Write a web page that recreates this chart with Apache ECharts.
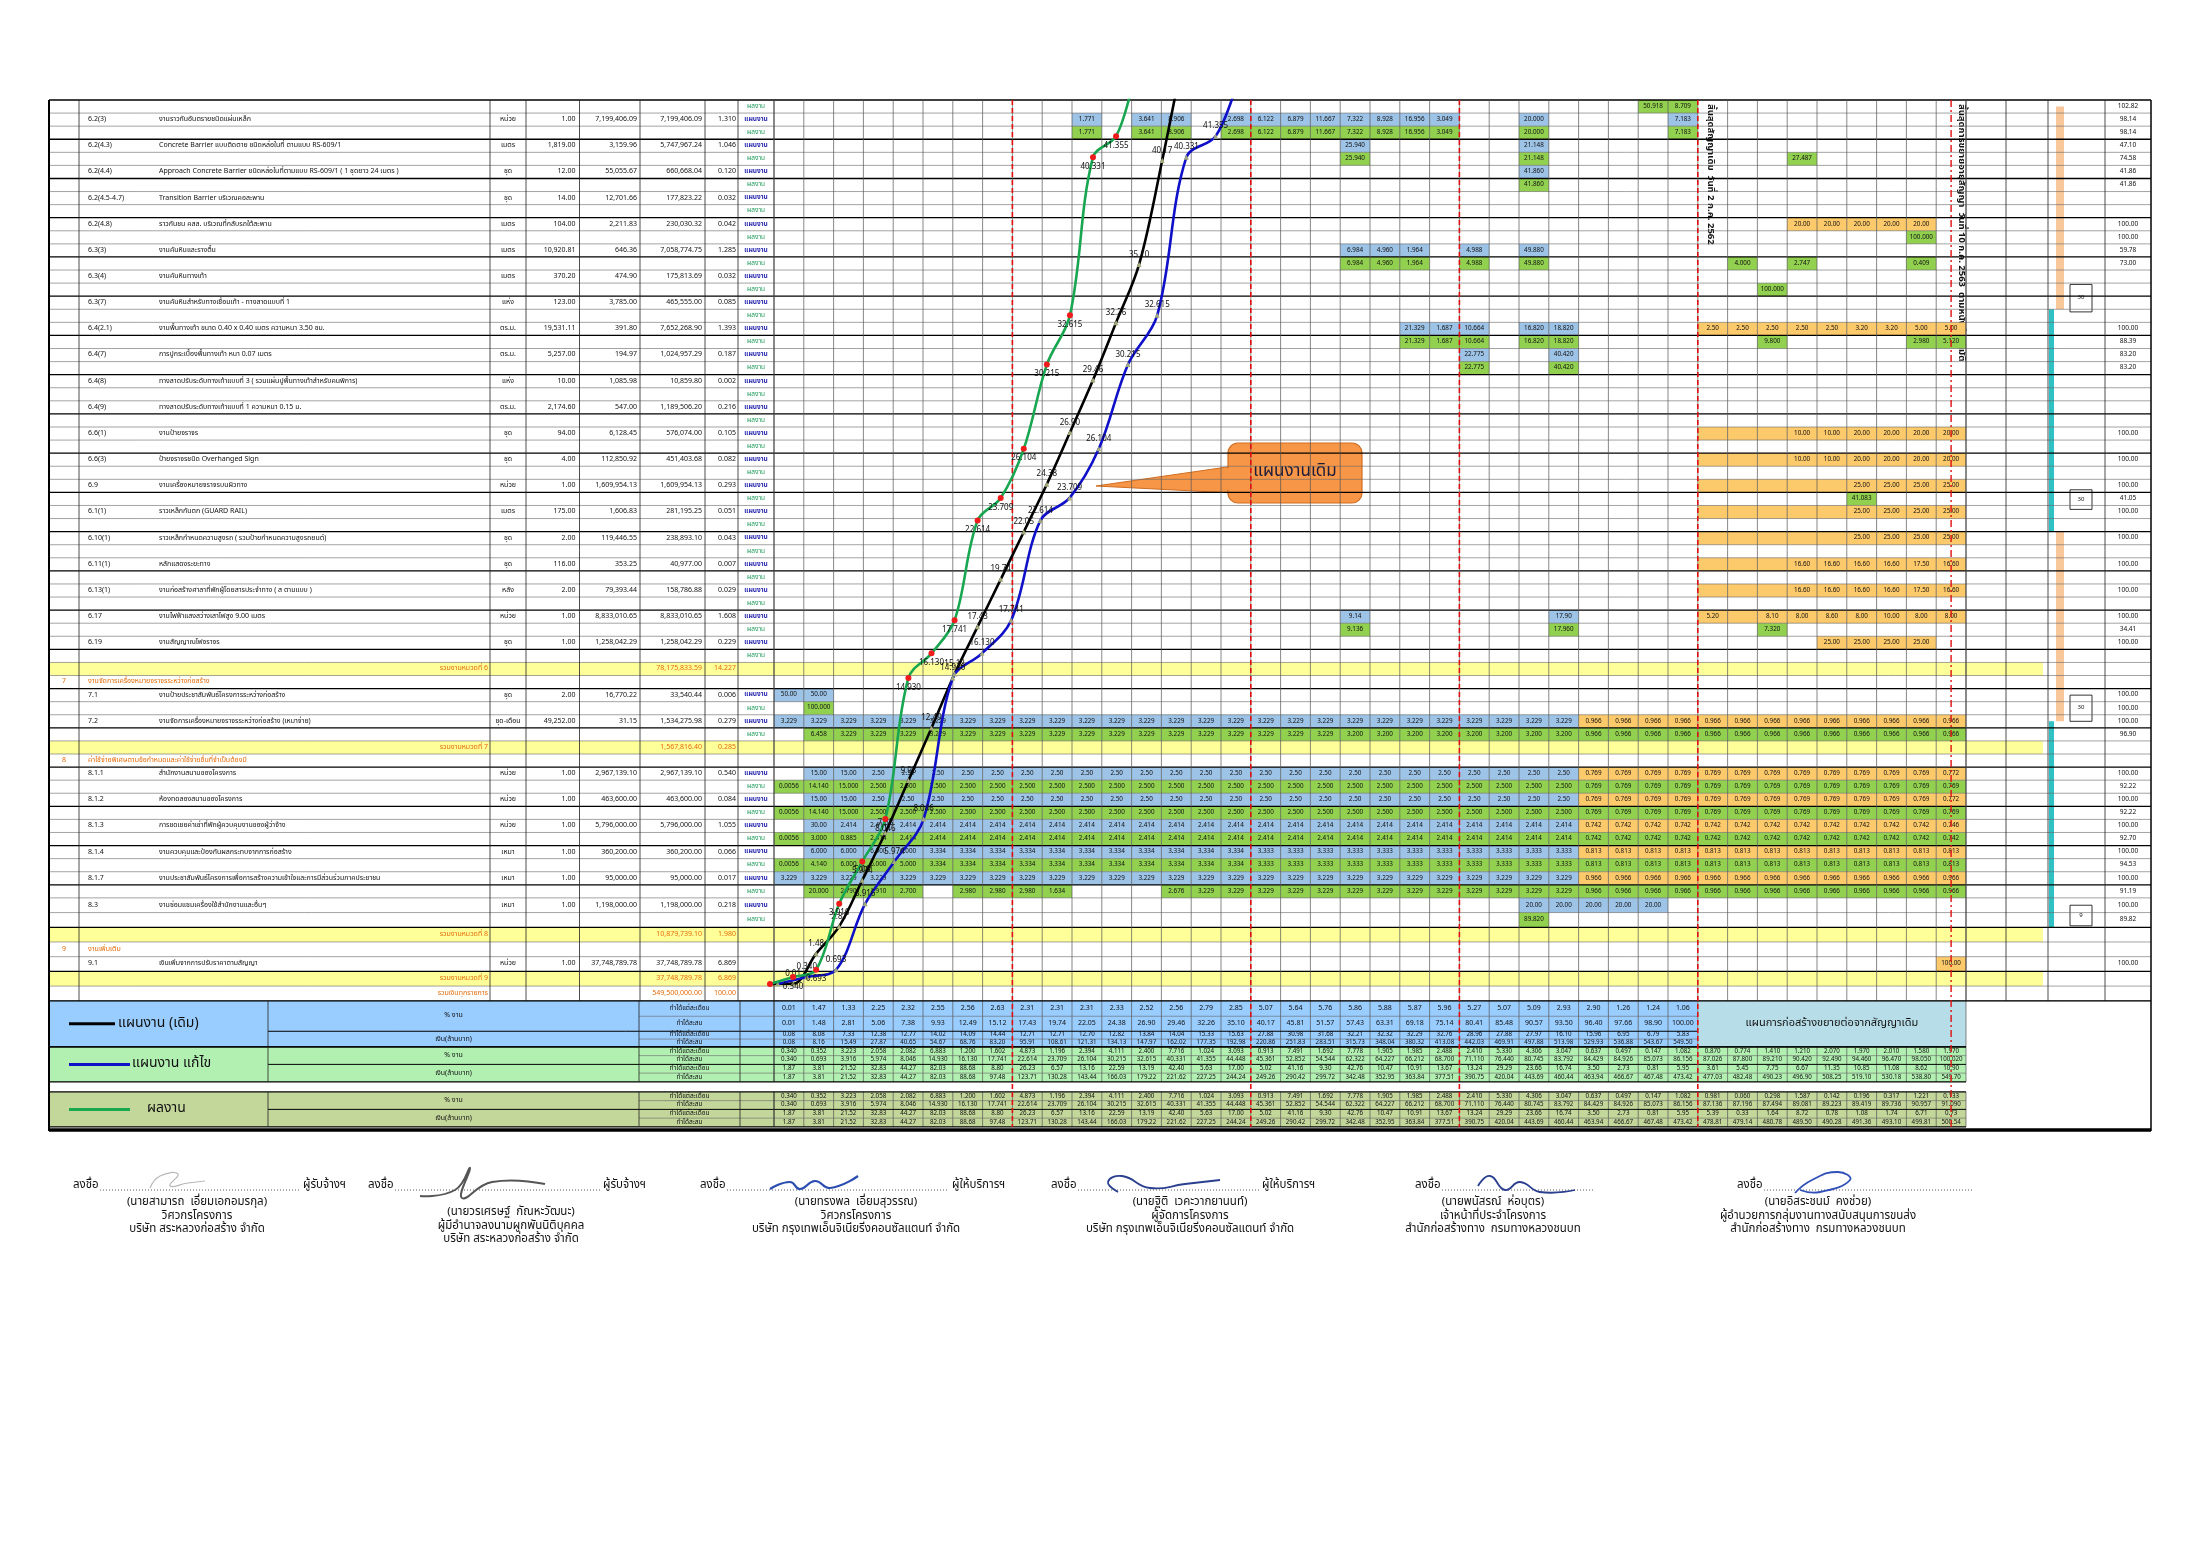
<!DOCTYPE html>
<html>
<head>
<meta charset="utf-8">
<title>S-Curve แผนงาน / ผลงาน</title>
<script src="https://cdn.jsdelivr.net/npm/echarts@6/dist/echarts.min.js"></script>
<style>
  html, body { margin: 0; padding: 0; background: #fff; }
  #chart { width: 2200px; height: 1555px; }
</style>
</head>
<body>
<div id="chart"></div>
<script>
const FONT = "'Noto Sans Thai','Noto Sans Thai UI','Garuda','Loma','Noto Sans','DejaVu Sans',sans-serif";

// ---------- summary table : % of work and money (million baht) per month ----------
const planMonthly = [0.01, 1.47, 1.33, 2.25, 2.32, 2.55, 2.56, 2.63, 2.31, 2.31, 2.31, 2.33, 2.52, 2.56, 2.79, 2.85,
  5.07, 5.64, 5.76, 5.86, 5.88, 5.87, 5.96, 5.27, 5.07, 5.09, 2.93, 2.90, 1.26, 1.24, 1.06];
const planCum = [0.01, 1.48, 2.81, 5.06, 7.38, 9.93, 12.49, 15.12, 17.43, 19.74, 22.05, 24.38, 26.90, 29.46, 32.26, 35.10,
  40.17, 45.81, 51.57, 57.43, 63.31, 69.18, 75.14, 80.41, 85.48, 90.57, 93.50, 96.40, 97.66, 98.90, 100.00];
const planMoney = [0.08, 8.08, 7.33, 12.38, 12.77, 14.02, 14.09, 14.44, 12.71, 12.71, 12.70, 12.82, 13.84, 14.04, 15.33, 15.63,
  27.88, 30.98, 31.68, 32.21, 32.32, 32.29, 32.76, 28.96, 27.88, 27.97, 16.10, 15.96, 6.95, 6.79, 5.83];
const planMoneyCum = [0.08, 8.16, 15.49, 27.87, 40.65, 54.67, 68.76, 83.20, 95.91, 108.61, 121.31, 134.13, 147.97, 162.02, 177.35, 192.98,
  220.86, 251.83, 283.51, 315.73, 348.04, 380.32, 413.08, 442.03, 469.91, 497.88, 513.98, 529.93, 536.88, 543.67, 549.50];

const revMonthly = [0.34, 0.352, 3.223, 2.058, 2.082, 6.883, 1.200, 1.602, 4.873, 1.196, 2.394, 4.111, 2.400, 7.716, 1.024, 3.093,
  0.913, 7.491, 1.692, 7.778, 1.905, 1.985, 2.488, 2.410, 5.330, 4.306, 3.047, 0.637, 0.497, 0.147, 1.082,
  0.870, 0.774, 1.410, 1.210, 2.070, 1.970, 2.010, 1.580, 1.970];
const revCum = [0.34, 0.693, 3.916, 5.974, 8.046, 14.930, 16.130, 17.741, 22.614, 23.709, 26.104, 30.215, 32.615, 40.331, 41.355, 44.448,
  45.361, 52.852, 54.544, 62.322, 64.227, 66.212, 68.700, 71.110, 76.440, 80.745, 83.792, 84.429, 84.926, 85.073, 86.156,
  87.026, 87.800, 89.210, 90.420, 92.490, 94.460, 96.470, 98.050, 100.020];
const revMoney = [1.87, 3.81, 21.52, 32.83, 44.27, 82.03, 88.68, 8.80, 26.23, 6.57, 13.16, 22.59, 13.19, 42.40, 5.63, 17.00,
  5.02, 41.16, 9.30, 42.76, 10.47, 10.91, 13.67, 13.24, 29.29, 23.66, 16.74, 3.50, 2.73, 0.81, 5.95,
  3.61, 5.45, 7.75, 6.67, 11.35, 10.85, 11.08, 8.62, 10.90];
const revMoneyCum = [1.87, 3.81, 21.52, 32.83, 44.27, 82.03, 88.68, 97.48, 123.71, 130.28, 143.44, 166.03, 179.22, 221.62, 227.25, 244.24,
  249.26, 290.42, 299.72, 342.48, 352.95, 363.84, 377.51, 390.75, 420.04, 443.69, 460.44, 463.94, 466.67, 467.48, 473.42,
  477.03, 482.48, 490.23, 496.90, 508.25, 519.10, 530.18, 538.80, 549.70];

const actMonthly = [0.34, 0.352, 3.223, 2.058, 2.082, 6.883, 1.200, 1.602, 4.873, 1.196, 2.394, 4.111, 2.400, 7.716, 1.024, 3.093,
  0.913, 7.491, 1.692, 7.778, 1.905, 1.985, 2.488, 2.410, 5.330, 4.306, 3.047, 0.637, 0.497, 0.147, 1.082,
  0.981, 0.060, 0.298, 1.587, 0.142, 0.196, 0.317, 1.221, 0.133];
const actCum = [0.34, 0.693, 3.916, 5.974, 8.046, 14.930, 16.130, 17.741, 22.614, 23.709, 26.104, 30.215, 32.615, 40.331, 41.355, 44.448,
  45.361, 52.852, 54.544, 62.322, 64.227, 66.212, 68.700, 71.110, 76.440, 80.745, 83.792, 84.429, 84.926, 85.073, 86.156,
  87.136, 87.196, 87.494, 89.081, 89.223, 89.419, 89.736, 90.957, 91.090];
const actMoney = [1.87, 3.81, 21.52, 32.83, 44.27, 82.03, 88.68, 8.80, 26.23, 6.57, 13.16, 22.59, 13.19, 42.40, 5.63, 17.00,
  5.02, 41.16, 9.30, 42.76, 10.47, 10.91, 13.67, 13.24, 29.29, 23.66, 16.74, 3.50, 2.73, 0.81, 5.95,
  5.39, 0.33, 1.64, 8.72, 0.78, 1.08, 1.74, 6.71, 0.73];
const actMoneyCum = [1.87, 3.81, 21.52, 32.83, 44.27, 82.03, 88.68, 97.48, 123.71, 130.28, 143.44, 166.03, 179.22, 221.62, 227.25, 244.24,
  249.26, 290.42, 299.72, 342.48, 352.95, 363.84, 377.51, 390.75, 420.04, 443.69, 460.44, 463.94, 466.67, 467.48, 473.42,
  478.81, 479.14, 480.78, 489.50, 490.28, 491.36, 493.10, 499.81, 500.54];

// ---------- work items : [row, code, description, unit, qty, unit price, amount, weight] ----------
const items = [
  [1, '6.2(3)', 'งานราวกันอันตรายชนิดแผ่นเหล็ก', 'หน่วย', '1.00', '7,199,406.09', '7,199,406.09', '1.310'],
  [3, '6.2(4.3)', 'Concrete Barrier แบบติดตาย ชนิดหล่อในที่ ตามแบบ RS-609/1', 'เมตร', '1,819.00', '3,159.96', '5,747,967.24', '1.046'],
  [5, '6.2(4.4)', 'Approach Concrete Barrier ชนิดหล่อในที่ตามแบบ RS-609/1 ( 1 ชุดยาว 24 เมตร )', 'ชุด', '12.00', '55,055.67', '660,668.04', '0.120'],
  [7, '6.2(4.5-4.7)', 'Transition Barrier บริเวณคอสะพาน', 'ชุด', '14.00', '12,701.66', '177,823.22', '0.032'],
  [9, '6.2(4.8)', 'ราวกันชน คสล. บริเวณที่กลับรถใต้สะพาน', 'เมตร', '104.00', '2,211.83', '230,030.32', '0.042'],
  [11, '6.3(3)', 'งานคันหินและรางตื้น', 'เมตร', '10,920.81', '646.36', '7,058,774.75', '1.285'],
  [13, '6.3(4)', 'งานคันหินทางเท้า', 'เมตร', '370.20', '474.90', '175,813.69', '0.032'],
  [15, '6.3(7)', 'งานคันหินสำหรับทางเชื่อมเท้า - ทางลาดแบบที่ 1', 'แห่ง', '123.00', '3,785.00', '465,555.00', '0.085'],
  [17, '6.4(2.1)', 'งานพื้นทางเท้า ขนาด 0.40 x 0.40 เมตร ความหนา 3.50 ซม.', 'ตร.ม.', '19,531.11', '391.80', '7,652,268.90', '1.393'],
  [19, '6.4(7)', 'การปูกระเบื้องพื้นทางเท้า หนา 0.07 เมตร', 'ตร.ม.', '5,257.00', '194.97', '1,024,957.29', '0.187'],
  [21, '6.4(8)', 'ทางลาดปรับระดับทางเท้าแบบที่ 3 ( รวมแผ่นปูพื้นทางเท้าสำหรับคนพิการ)', 'แห่ง', '10.00', '1,085.98', '10,859.80', '0.002'],
  [23, '6.4(9)', 'ทางลาดปรับระดับทางเท้าแบบที่ 1 ความหนา 0.15 ม.', 'ตร.ม.', '2,174.60', '547.00', '1,189,506.20', '0.216'],
  [25, '6.6(1)', 'งานป้ายจราจร', 'ชุด', '94.00', '6,128.45', '576,074.00', '0.105'],
  [27, '6.6(3)', 'ป้ายจราจรชนิด Overhanged Sign', 'ชุด', '4.00', '112,850.92', '451,403.68', '0.082'],
  [29, '6.9', 'งานเครื่องหมายจราจรบนผิวทาง', 'หน่วย', '1.00', '1,609,954.13', '1,609,954.13', '0.293'],
  [31, '6.1(1)', 'ราวเหล็กกันตก (GUARD RAIL)', 'เมตร', '175.00', '1,606.83', '281,195.25', '0.051'],
  [33, '6.10(1)', 'ราวเหล็กกำหนดความสูงรถ ( รวมป้ายกำหนดความสูงรถยนต์)', 'ชุด', '2.00', '119,446.55', '238,893.10', '0.043'],
  [35, '6.11(1)', 'หลักแสดงระยะทาง', 'ชุด', '116.00', '353.25', '40,977.00', '0.007'],
  [37, '6.13(1)', 'งานก่อสร้างศาลาที่พักผู้โดยสารประจำทาง ( ส ตามแบบ )', 'หลัง', '2.00', '79,393.44', '158,786.88', '0.029'],
  [39, '6.17', 'งานไฟฟ้าแสงสว่างเสาไฟสูง 9.00 เมตร', 'หน่วย', '1.00', '8,833,010.65', '8,833,010.65', '1.608'],
  [41, '6.19', 'งานสัญญาณไฟจราจร', 'ชุด', '1.00', '1,258,042.29', '1,258,042.29', '0.229'],
  [45, '7.1', 'งานป้ายประชาสัมพันธ์โครงการระหว่างก่อสร้าง', 'ชุด', '2.00', '16,770.22', '33,540.44', '0.006'],
  [47, '7.2', 'งานจัดการเครื่องหมายจราจรระหว่างก่อสร้าง (เหมาจ่าย)', 'ชุด-เดือน', '49,252.00', '31.15', '1,534,275.98', '0.279'],
  [51, '8.1.1', 'สำนักงานสนามของโครงการ', 'หน่วย', '1.00', '2,967,139.10', '2,967,139.10', '0.540'],
  [53, '8.1.2', 'ห้องทดลองสนามของโครงการ', 'หน่วย', '1.00', '463,600.00', '463,600.00', '0.084'],
  [55, '8.1.3', 'การชดเชยค่าเช่าที่พักผู้ควบคุมงานของผู้ว่าจ้าง', 'หน่วย', '1.00', '5,796,000.00', '5,796,000.00', '1.055'],
  [57, '8.1.4', 'งานควบคุมและป้องกันผลกระทบจากการก่อสร้าง', 'เหมา', '1.00', '360,200.00', '360,200.00', '0.066'],
  [59, '8.1.7', 'งานประชาสัมพันธ์โครงการเพื่อการสร้างความเข้าใจและการมีส่วนร่วมภาคประชาชน', 'เหมา', '1.00', '95,000.00', '95,000.00', '0.017'],
  [61, '8.3', 'งานซ่อมแซมเครื่องใช้สำนักงานและอื่นๆ', 'เหมา', '1.00', '1,198,000.00', '1,198,000.00', '0.218'],
  [65, '9.1', 'เงินเพิ่มจากการปรับราคาตามสัญญา', 'หน่วย', '1.00', '37,748,789.78', '37,748,789.78', '6.869']
];
const headings = [
  [44, '7', 'งานจัดการเครื่องหมายจราจรระหว่างก่อสร้าง'],
  [50, '8', 'ค่าใช้จ่ายพิเศษตามข้อกำหนดและค่าใช้จ่ายอื่นที่จำเป็นต้องมี'],
  [64, '9', 'งานเพิ่มเติม']
];
const subtotals = [
  [43, 'รวมงานหมวดที่ 6', '78,175,833.59', '14.227'],
  [49, 'รวมงานหมวดที่ 7', '1,567,816.40', '0.285'],
  [63, 'รวมงานหมวดที่ 8', '10,879,739.10', '1.980'],
  [66, 'รวมงานหมวดที่ 9', '37,748,789.78', '6.869']
];
const grandTotal = [67, 'รวมเงินทุกรายการ', '549,500,000.00', '100.00'];

// ---------- monthly cells : [row, first month, values, kind p=plan a=actual x=extension] ----------
const rep = (v, n) => Array(n).fill(v);
const ganttRuns = [
  [0, 30, ['50.918', '8.709'], 'a'],
  [1, 11, ['1.771'], 'p'], [1, 13, ['3.641', '8.906'], 'p'],
  [1, 16, ['2.698', '6.122', '6.879', '11.667', '7.322', '8.928', '16.956', '3.049'], 'p'], [1, 26, ['20.000'], 'p'], [1, 31, ['7.183'], 'p'],
  [2, 11, ['1.771'], 'a'], [2, 13, ['3.641', '8.906'], 'a'],
  [2, 16, ['2.698', '6.122', '6.879', '11.667', '7.322', '8.928', '16.956', '3.049'], 'a'], [2, 26, ['20.000'], 'a'], [2, 31, ['7.183'], 'a'],
  [3, 20, ['25.940'], 'p'], [3, 26, ['21.148'], 'p'],
  [4, 20, ['25.940'], 'a'], [4, 26, ['21.148'], 'a'], [4, 35, ['27.487'], 'a'],
  [5, 26, ['41.860'], 'p'], [6, 26, ['41.860'], 'a'],
  [9, 35, rep('20.00', 5), 'x'], [10, 39, ['100.000'], 'a'],
  [11, 20, ['6.984', '4.960', '1.964'], 'p'], [11, 24, ['4.988'], 'p'], [11, 26, ['49.880'], 'p'],
  [12, 20, ['6.984', '4.960', '1.964'], 'a'], [12, 24, ['4.988'], 'a'], [12, 26, ['49.880'], 'a'],
  [12, 33, ['4.000'], 'a'], [12, 35, ['2.747'], 'a'], [12, 39, ['0.409'], 'a'],
  [14, 34, ['100.000'], 'a'],
  [17, 22, ['21.329', '1.687', '10.664'], 'p'], [17, 26, ['16.820', '18.820'], 'p'],
  [17, 32, ['2.50', '2.50', '2.50', '2.50', '2.50', '3.20', '3.20', '5.00', '5.00'], 'x'],
  [18, 22, ['21.329', '1.687', '10.664'], 'a'], [18, 26, ['16.820', '18.820'], 'a'],
  [18, 34, ['9.800'], 'a'], [18, 39, ['2.980', '5.120'], 'a'],
  [19, 24, ['22.775'], 'p'], [19, 27, ['40.420'], 'p'],
  [20, 24, ['22.775'], 'a'], [20, 27, ['40.420'], 'a'],
  [25, 32, ['', '', '', '10.00', '10.00', '20.00', '20.00', '20.00', '20.00'], 'x'],
  [27, 32, ['', '', '', '10.00', '10.00', '20.00', '20.00', '20.00', '20.00'], 'x'],
  [29, 32, ['', '', '', '', '', '25.00', '25.00', '25.00', '25.00'], 'x'], [30, 37, ['41.083'], 'a'],
  [31, 32, ['', '', '', '', '', '25.00', '25.00', '25.00', '25.00'], 'x'],
  [33, 32, ['', '', '', '', '', '25.00', '25.00', '25.00', '25.00'], 'x'],
  [35, 32, ['', '', '', '16.60', '16.60', '16.60', '16.60', '17.50', '16.60'], 'x'],
  [37, 32, ['', '', '', '16.60', '16.60', '16.60', '16.60', '17.50', '16.60'], 'x'],
  [39, 20, ['9.14'], 'p'], [39, 27, ['17.90'], 'p'],
  [39, 32, ['5.20', '', '8.10', '8.00', '8.60', '8.00', '10.00', '8.00', '8.00'], 'x'],
  [40, 20, ['9.136'], 'a'], [40, 27, ['17.960'], 'a'], [40, 34, ['7.320'], 'a'],
  [41, 36, rep('25.00', 4), 'x'],
  [45, 1, ['50.00', '50.00'], 'p'], [46, 2, ['100.000'], 'a'],
  [47, 1, rep('3.229', 27), 'p'], [47, 28, rep('0.966', 13), 'x'],
  [48, 2, ['6.458', ...rep('3.229', 17), ...rep('3.200', 8)], 'a'], [48, 28, rep('0.966', 13), 'a'],
  [51, 2, ['15.00', '15.00', ...rep('2.50', 24)], 'p'], [51, 28, [...rep('0.769', 12), '0.772'], 'x'],
  [52, 1, ['0.0056', '14.140', '15.000', ...rep('2.500', 24)], 'a'], [52, 28, rep('0.769', 13), 'a'],
  [53, 2, ['15.00', '15.00', ...rep('2.50', 24)], 'p'], [53, 28, [...rep('0.769', 12), '0.772'], 'x'],
  [54, 1, ['0.0056', '14.140', '15.000', ...rep('2.500', 24)], 'a'], [54, 28, rep('0.769', 13), 'a'],
  [55, 2, ['30.00', ...rep('2.414', 25)], 'p'], [55, 28, [...rep('0.742', 12), '0.746'], 'x'],
  [56, 1, ['0.0056', '3.000', '0.885', ...rep('2.414', 24)], 'a'], [56, 28, rep('0.742', 13), 'a'],
  [57, 2, ['6.000', '6.000', '6.000', '6.000', ...rep('3.334', 11), ...rep('3.333', 11)], 'p'], [57, 28, rep('0.813', 13), 'x'],
  [58, 1, ['0.0056', '4.140', '6.000', '6.000', '5.000', ...rep('3.334', 11), ...rep('3.333', 11)], 'a'], [58, 28, rep('0.813', 13), 'a'],
  [59, 1, rep('3.229', 27), 'p'], [59, 28, rep('0.966', 13), 'x'],
  [60, 2, ['20.000', '2.790', '1.910', '2.700'], 'a'], [60, 7, ['2.980', '2.980', '2.980', '1.634'], 'a'],
  [60, 14, ['2.676', ...rep('3.229', 13)], 'a'], [60, 28, rep('0.966', 13), 'a'],
  [61, 26, rep('20.00', 5), 'p'], [62, 26, ['89.820'], 'a'],
  [65, 40, ['100.00'], 'x']
];
// last column : % of item done
const rightValues = [
  [0, '102.82'], [1, '98.14'], [2, '98.14'], [3, '47.10'], [4, '74.58'], [5, '41.86'], [6, '41.86'],
  [9, '100.00'], [10, '100.00'], [11, '59.78'], [12, '73.00'], [17, '100.00'], [18, '88.39'], [19, '83.20'], [20, '83.20'],
  [25, '100.00'], [27, '100.00'], [29, '100.00'], [30, '41.05'], [31, '100.00'], [33, '100.00'], [35, '100.00'], [37, '100.00'],
  [39, '100.00'], [40, '34.41'], [41, '100.00'], [45, '100.00'], [46, '100.00'], [47, '100.00'], [48, '96.90'],
  [51, '100.00'], [52, '92.22'], [53, '100.00'], [54, '92.22'], [55, '100.00'], [56, '92.70'], [57, '100.00'], [58, '94.53'],
  [59, '100.00'], [60, '91.19'], [61, '100.00'], [62, '89.82'], [65, '100.00']
];
// extension-period bars at the right : [from row, to row, kind]
const sideBars = [[0.5, 16, 'peach'], [16, 33, 'teal'], [33, 47.5, 'peach'], [47.5, 63, 'teal']];
const sideBoxes = [[14.1, 16.2, '30'], [29.8, 31.3, '30'], [45.5, 47.5, '30'], [61.5, 62.9, '9']];
const fiscalBreaks = [8, 16, 23, 31];
const extensionEnd = 39.5;

// ---------- sheet layout (pixels from the sheet origin) ----------
const SHEET = { left: 49, top: 100, width: 2102, height: 1027 };
const COL_L = [0, 30, 441, 477, 530.5, 591, 656, 689, 725];
const MONTH_X0 = 725, MONTH_W = 29.8, N_MONTH = 40;
const COL_R = [1917, 1957, 1999, 2056, 2102];
const SUM_COL = [0, 219, 590, 691, 725];
const rowH = [];
for (let i = 0; i < 61; i++) rowH.push(13.08);
for (let i = 0; i < 7; i++) rowH.push(14.7);
rowH.push(15.5, 15, 7.8, 7.8, 8.75, 8.75, 8.75, 8.75, 10, 8.75, 8.75, 8.75, 8.75);
const rowY = [0];
rowH.forEach(h => rowY.push(rowY[rowY.length - 1] + h));
const ry = r => { const i = Math.min(Math.floor(r), rowH.length - 1); return rowY[i] + (r - i) * rowH[i]; };
const mx = k => MONTH_X0 + MONTH_W * k;

const COLORS = {
  p: '#9dc3e6', a: '#92d050', x: '#fcc96b', yellow: '#ffff99', peach: '#f8c79a', teal: '#2fc1c4',
  orange: '#e36c09', planTxt: '#2b2bb0', actTxt: '#1f9a5a', red: '#e01010'
};

// ---------- build the sheet cells and rules ----------
const cellBox = [], cellStyle = [];
function addCell(x0, r0, x1, r1, st) { cellBox.push([x0, ry(r0), x1, ry(r1)]); cellStyle.push(st); }
const lineBox = [], lineStyle = [];
function addLine(x0, y0, x1, y1, st) { lineBox.push([x0, y0, x1, y1]); lineStyle.push(st); }

subtotals.forEach(s => addCell(0, s[0], 1994, s[0] + 1, { fill: COLORS.yellow }));

const SUM_BLOCKS = [
  { row: 68, fill: '#99ccff', name: 'แผนงาน (เดิม)', line: '#000000', lineTo: 66, textX: 69, rows: [planMonthly, planCum, planMoney, planMoneyCum], dec: [2, 2, 2, 2], months: 31 },
  { row: 72, fill: '#b2f0b2', name: 'แผนงาน แก้ไข', line: '#1010c8', lineTo: 81, textX: 83, rows: [revMonthly, revCum, revMoney, revMoneyCum], dec: [3, 3, 2, 2], months: 40 },
  { row: 77, fill: '#c4d79b', name: 'ผลงาน', line: '#19a84c', lineTo: 81, textX: 98, rows: [actMonthly, actCum, actMoney, actMoneyCum], dec: [3, 3, 2, 2], months: 40 }
];
const rowLabels = ['ทำได้แต่ละเดือน', 'ทำได้สะสม', 'ทำได้แต่ละเดือน', 'ทำได้สะสม'];
SUM_BLOCKS.forEach(b => {
  addCell(0, b.row, mx(b.months), b.row + 4, { fill: b.fill });
  addCell(b.textX, b.row, SUM_COL[1], b.row + 4, { text: b.name, align: 'left', size: 14, pad: 0 });
  addCell(SUM_COL[1], b.row, SUM_COL[2], b.row + 2, { text: '% งาน', size: 7 });
  addCell(SUM_COL[1], b.row + 2, SUM_COL[2], b.row + 4, { text: 'เงิน(ล้านบาท)', size: 7 });
  rowLabels.forEach((t, j) => addCell(SUM_COL[2], b.row + j, SUM_COL[3], b.row + j + 1, { text: t, size: 6.5 }));
  b.rows.forEach((arr, j) => arr.forEach((v, k) =>
    addCell(mx(k), b.row + j, mx(k + 1), b.row + j + 1, { text: v.toFixed(b.dec[j]), size: j < 2 && b.row === 68 ? 7 : 6.2 })));
  const yMid = (ry(b.row) + ry(b.row + 4)) / 2;
  addLine(20, yMid, b.lineTo, yMid, { color: b.line, width: 3 });
});
addCell(mx(31), 68, mx(40), 72, { fill: '#b7dee8', text: 'แผนการก่อสร้างขยายต่อจากสัญญาเดิม', size: 11 });

ganttRuns.forEach(([row, m0, vals, kind]) => vals.forEach((v, j) =>
  addCell(mx(m0 - 1 + j), row, mx(m0 + j), row + 1, { fill: COLORS[kind], text: v, size: 6.3 })));

// left part of the sheet
const addRowLabel = (r, plan) => addCell(COL_L[7], r, COL_L[8], r + 1,
  { text: plan ? 'แผนงาน' : 'ผลงาน', size: 6.5, color: plan ? COLORS.planTxt : COLORS.actTxt, bold: plan });
addRowLabel(0, false);
items.forEach(it => {
  const r = it[0];
  addCell(COL_L[1], r, COL_L[2], r + 1, { text: it[1], align: 'left', pad: 9, size: 7 });
  addCell(COL_L[1] + 80, r, COL_L[2], r + 1, { text: it[2], align: 'left', pad: 0, size: 7 });
  addCell(COL_L[2], r, COL_L[3], r + 1, { text: it[3], size: 7 });
  addCell(COL_L[3], r, COL_L[4], r + 1, { text: it[4], align: 'right', pad: 4, size: 7 });
  addCell(COL_L[4], r, COL_L[5], r + 1, { text: it[5], align: 'right', pad: 3, size: 7 });
  addCell(COL_L[5], r, COL_L[6], r + 1, { text: it[6], align: 'right', pad: 3, size: 7 });
  addCell(COL_L[6], r, COL_L[7], r + 1, { text: it[7], align: 'right', pad: 2, size: 7 });
  if (r !== 65) { addRowLabel(r, true); addRowLabel(r + 1, false); }
});
headings.forEach(h => {
  addCell(COL_L[0], h[0], COL_L[1], h[0] + 1, { text: h[1], size: 7, color: COLORS.orange });
  addCell(COL_L[1], h[0], COL_L[2], h[0] + 1, { text: h[2], align: 'left', pad: 9, size: 7, color: COLORS.orange });
});
[...subtotals, grandTotal].forEach(s => {
  addCell(COL_L[1], s[0], COL_L[2], s[0] + 1, { text: s[1], align: 'right', pad: 2, size: 7, color: COLORS.orange });
  addCell(COL_L[5], s[0], COL_L[6], s[0] + 1, { text: s[2], align: 'right', pad: 3, size: 7, color: COLORS.orange });
  addCell(COL_L[6], s[0], COL_L[7], s[0] + 1, { text: s[3], align: 'right', pad: 2, size: 7, color: COLORS.orange });
});
rightValues.forEach(([r, t]) => addCell(COL_R[3], r, COL_R[4], r + 1, { text: t, size: 6.5 }));
sideBars.forEach(([r0, r1, kind]) => kind === 'teal'
  ? addCell(2000, r0, 2005, r1, { fill: COLORS.teal })
  : addCell(2007, r0, 2015, r1, { fill: COLORS.peach }));
sideBoxes.forEach(([r0, r1, t]) => addCell(2021, r0, 2043, r1, { fill: '#ffffff', stroke: '#000', lw: 0.8, text: t, size: 6 }));

// rules
const THIN = { color: '#666', width: 0.6 }, THICK = { color: '#000', width: 1.3 };
for (let i = 0; i <= 68; i++) addLine(0, rowY[i], SHEET.width, rowY[i], i % 3 === 0 ? THICK : THIN);
for (let c = 1; c < COL_L.length; c++) addLine(COL_L[c], rowY[0], COL_L[c], rowY[68], { color: '#222', width: 0.8 });
for (let c = 0; c < 4; c++) addLine(COL_R[c], rowY[0], COL_R[c], rowY[68], { color: '#222', width: 0.8 });
for (let k = 0; k <= N_MONTH; k++) {
  const st = { color: '#555', width: 0.7 };
  addLine(mx(k), rowY[0], mx(k), rowY[68], st);
  if (k <= 31 || k === N_MONTH) addLine(mx(k), rowY[68], mx(k), rowY[72], st);
  addLine(mx(k), rowY[72], mx(k), rowY[76], st);
  addLine(mx(k), rowY[77], mx(k), rowY[81], st);
}
SUM_BLOCKS.forEach(b => {
  const end = mx(b.months), r = b.row;
  addLine(0, rowY[r], b.row === 68 ? SHEET.width : end, rowY[r], THICK);
  addLine(SUM_COL[2], rowY[r + 1], end, rowY[r + 1], THIN);
  addLine(SUM_COL[1], rowY[r + 2], end, rowY[r + 2], { color: '#000', width: 1 });
  addLine(SUM_COL[2], rowY[r + 3], end, rowY[r + 3], THIN);
  addLine(0, rowY[r + 4], mx(40), rowY[r + 4], THICK);
  for (let c = 1; c < SUM_COL.length; c++) addLine(SUM_COL[c], rowY[r], SUM_COL[c], rowY[r + 4], { color: '#222', width: 0.8 });
});
addLine(0, rowY[0], 0, rowY[81] + 4, { color: '#000', width: 2 });
addLine(SHEET.width, rowY[0], SHEET.width, rowY[81] + 4, { color: '#000', width: 1.5 });
addLine(0, rowY[81] + 3, SHEET.width, rowY[81] + 3, { color: '#000', width: 3.5 });
fiscalBreaks.forEach(k => addLine(mx(k), rowY[0], mx(k), rowY[81], { color: COLORS.red, width: 1.6, dash: [5, 3] }));
addLine(mx(extensionEnd), rowY[0], mx(extensionEnd), rowY[81], { color: COLORS.red, width: 1.4, dash: [7, 3, 2, 3] });

// ---------- S-curves ----------
const curve = (arr) => [[0, 0], ...arr.map((v, i) => [i + 1, v])];
const Y_MAX = 43.12;

const chart = echarts.init(document.getElementById('chart'));
const hidden = { show: false, splitLine: { show: false } };

const signText = (x, y, text, align) => ({
  type: 'text', x, y, silent: true,
  style: { text, fontSize: 11.5, fill: '#111', align: align || 'center', verticalAlign: 'middle', fontFamily: FONT }
});
const signatures = [
  { x: 73, dotTo: 300, role: 'ผู้รับจ้างฯ', cx: 197, y: 1203, lines: ['(นายสามารถ  เอี่ยมเอกอมรกุล)', 'วิศวกรโครงการ', 'บริษัท สระหลวงก่อสร้าง จำกัด'] },
  { x: 368, dotTo: 600, role: 'ผู้รับจ้างฯ', cx: 511, y: 1213, lines: ['(นายวรเศรษฐ์  กัณหะวัฒนะ)', 'ผู้มีอำนาจลงนามผูกพันนิติบุคคล', 'บริษัท สระหลวงก่อสร้าง จำกัด'] },
  { x: 700, dotTo: 949, role: 'ผู้ให้บริการฯ', cx: 856, y: 1203, lines: ['(นายทรงพล  เอี่ยมสุวรรณ)', 'วิศวกรโครงการ', 'บริษัท กรุงเทพเอ็นจิเนียริ่งคอนซัลแตนท์ จำกัด'] },
  { x: 1051, dotTo: 1259, role: 'ผู้ให้บริการฯ', cx: 1190, y: 1203, lines: ['(นายฐิติ  เวคะวากยานนท์)', 'ผู้จัดการโครงการ', 'บริษัท กรุงเทพเอ็นจิเนียริ่งคอนซัลแตนท์ จำกัด'] },
  { x: 1415, dotTo: 1594, role: '', cx: 1493, y: 1203, lines: ['(นายพนัสรณ์  ห่อบุตร)', 'เจ้าหน้าที่ประจำโครงการ', 'สำนักก่อสร้างทาง  กรมทางหลวงชนบท'] },
  { x: 1737, dotTo: 1972, role: '', cx: 1818, y: 1203, lines: ['(นายอิสระชนม์  คงช่วย)', 'ผู้อำนวยการกลุ่มงานทางสนับสนุนการขนส่ง', 'สำนักก่อสร้างทาง  กรมทางหลวงชนบท'] }
];
const graphics = [];
signatures.forEach(s => {
  graphics.push(signText(s.x, 1186, 'ลงชื่อ', 'left'));
  graphics.push({ type: 'line', silent: true, shape: { x1: s.x + 27, y1: 1190, x2: s.dotTo, y2: 1190 }, style: { stroke: '#333', lineWidth: 0.8, lineDash: [1, 2] } });
  if (s.role) graphics.push(signText(s.dotTo + 3, 1186, s.role, 'left'));
  s.lines.forEach((t, j) => graphics.push(signText(s.cx, s.y + j * 13.5, t)));
});
// hand-written signatures (rough strokes)
const scribbles = [
  { pts: [[150, 1188], [160, 1176], [178, 1174], [170, 1186], [188, 1183], [205, 1181]], color: '#b8b8b8', w: 1.2 },
  { pts: [[420, 1196], [455, 1190], [470, 1168], [462, 1198], [492, 1182], [545, 1184]], color: '#555', w: 2 },
  { pts: [[770, 1189], [790, 1182], [800, 1189], [815, 1181], [830, 1188], [858, 1176]], color: '#2b4db0', w: 2.2 },
  { pts: [[1118, 1192], [1108, 1182], [1122, 1176], [1150, 1188], [1185, 1184], [1220, 1180]], color: '#2b3f8f', w: 1.8 },
  { pts: [[1478, 1186], [1490, 1176], [1505, 1190], [1520, 1182], [1540, 1192], [1575, 1190]], color: '#2b3f8f', w: 1.8 },
  { pts: [[1795, 1193], [1812, 1180], [1838, 1172], [1850, 1180], [1820, 1192], [1800, 1190]], color: '#3050b8', w: 1.8 }
];
scribbles.forEach(s => graphics.push({ type: 'polyline', silent: true, shape: { points: s.pts, smooth: 0.5 }, style: { stroke: s.color, lineWidth: s.w, fill: null } }));
// contract date notes along the red lines
graphics.push({ type: 'text', x: 1710, y: 104, rotation: -Math.PI / 2, silent: true,
  style: { text: 'สิ้นสุดสัญญาเดิม  วันที่ 2 ก.ค. 2562', fontSize: 9.5, fontWeight: 'bold', fill: '#111', align: 'left', verticalAlign: 'middle', fontFamily: FONT } });
graphics.push({ type: 'text', x: 1961, y: 104, rotation: -Math.PI / 2, silent: true,
  style: { text: 'สิ้นสุดการขยายอายุสัญญา  วันที่ 10 ก.ค. 2563  ตามหนังสืออนุมัติ', fontSize: 9.5, fontWeight: 'bold', fill: '#111', align: 'left', verticalAlign: 'middle', fontFamily: FONT } });
// callout
graphics.push({ type: 'polygon', silent: true, shape: { points: [[1234, 466], [1096, 486], [1234, 493]] }, style: { fill: '#f79646', stroke: '#cf6d22', lineWidth: 1 } });
graphics.push({ type: 'rect', silent: true, shape: { x: 1228, y: 443, width: 134, height: 60, r: 10 }, style: { fill: '#f79646', stroke: '#cf6d22', lineWidth: 1.2 } });
graphics.push({ type: 'polygon', silent: true, shape: { points: [[1236, 467], [1180, 476], [1236, 492]] }, style: { fill: '#f79646' } });
graphics.push({ type: 'text', x: 1295, y: 473, silent: true, style: { text: 'แผนงานเดิม', fontSize: 17, fill: '#1c1c3a', align: 'center', verticalAlign: 'middle', fontFamily: FONT } });

const curveLabel = (dec, pos) => ({
  show: true, position: pos, distance: 3, fontSize: 8, color: '#111', fontFamily: FONT,
  formatter: p => p.dataIndex === 0 ? '' : p.value[1].toFixed(dec)
});

chart.setOption({
  animation: false,
  backgroundColor: '#ffffff',
  textStyle: { fontFamily: FONT },
  grid: [
    { left: SHEET.left, top: SHEET.top, width: SHEET.width, height: SHEET.height },
    { left: 770, top: 100, width: 40 * 23.07, height: 884 },
    { left: 777.6, top: 100, width: 40 * 29.2, height: 884 }
  ],
  xAxis: [
    { type: 'value', gridIndex: 0, min: 0, max: SHEET.width, ...hidden },
    { type: 'value', gridIndex: 1, min: 0, max: 40, ...hidden },
    { type: 'value', gridIndex: 2, min: 0, max: 40, ...hidden }
  ],
  yAxis: [
    { type: 'value', gridIndex: 0, min: 0, max: SHEET.height, inverse: true, ...hidden },
    { type: 'value', gridIndex: 1, min: 0, max: Y_MAX, ...hidden },
    { type: 'value', gridIndex: 2, min: 0, max: Y_MAX, ...hidden }
  ],
  series: [
    {
      type: 'custom', name: 'cells', xAxisIndex: 0, yAxisIndex: 0, data: cellBox, clip: false, silent: true,
      progressive: 0, encode: { x: [0, 2], y: [1, 3] }, z: 1,
      renderItem(params, api) {
        const o = cellStyle[params.dataIndex];
        const p0 = api.coord([api.value(0), api.value(1)]);
        const p1 = api.coord([api.value(2), api.value(3)]);
        const children = [];
        if (o.fill) children.push({ type: 'rect', shape: { x: p0[0], y: p0[1], width: p1[0] - p0[0], height: p1[1] - p0[1] },
          style: { fill: o.fill, stroke: o.stroke || null, lineWidth: o.lw || 0 } });
        if (o.text) {
          const pad = o.pad == null ? 2 : o.pad;
          const tx = o.align === 'left' ? p0[0] + pad : o.align === 'right' ? p1[0] - pad : (p0[0] + p1[0]) / 2;
          children.push({ type: 'text', style: { text: o.text, x: tx, y: (p0[1] + p1[1]) / 2, align: o.align || 'center', verticalAlign: 'middle',
            fill: o.color || '#111', fontSize: o.size || 7, fontWeight: o.bold ? 'bold' : 'normal', fontFamily: FONT } });
        }
        return { type: 'group', children };
      }
    },
    {
      type: 'custom', name: 'rules', xAxisIndex: 0, yAxisIndex: 0, data: lineBox, clip: false, silent: true,
      progressive: 0, encode: { x: [0, 2], y: [1, 3] }, z: 2,
      renderItem(params, api) {
        const o = lineStyle[params.dataIndex];
        const p0 = api.coord([api.value(0), api.value(1)]);
        const p1 = api.coord([api.value(2), api.value(3)]);
        return { type: 'line', shape: { x1: p0[0], y1: p0[1], x2: p1[0], y2: p1[1] },
          style: { stroke: o.color, lineWidth: o.width, lineDash: o.dash || null } };
      }
    },
    {
      type: 'line', name: 'แผนงาน (เดิม)', xAxisIndex: 1, yAxisIndex: 1, data: curve(planCum), smooth: 0.35, z: 5,
      lineStyle: { color: '#000', width: 2.6 }, symbol: 'triangle', symbolSize: 5, itemStyle: { color: '#a3ab7b' },
      label: curveLabel(2, 'top'), silent: true
    },
    {
      type: 'line', name: 'ผลงาน', xAxisIndex: 1, yAxisIndex: 1, data: curve(actCum), smooth: 0.35, z: 6,
      lineStyle: { color: '#18a650', width: 2.6 }, symbol: 'circle', symbolSize: 6, itemStyle: { color: '#ee1c1c' },
      label: curveLabel(3, 'bottom'), silent: true
    },
    {
      type: 'line', name: 'แผนงาน แก้ไข', xAxisIndex: 2, yAxisIndex: 2, data: curve(revCum), smooth: 0.35, z: 5,
      lineStyle: { color: '#1010c8', width: 2.6 }, symbol: 'triangle', symbolSize: 5, itemStyle: { color: '#a3ab7b' },
      label: curveLabel(3, 'top'), silent: true
    }
  ],
  graphic: graphics
});
</script>
</body>
</html>
